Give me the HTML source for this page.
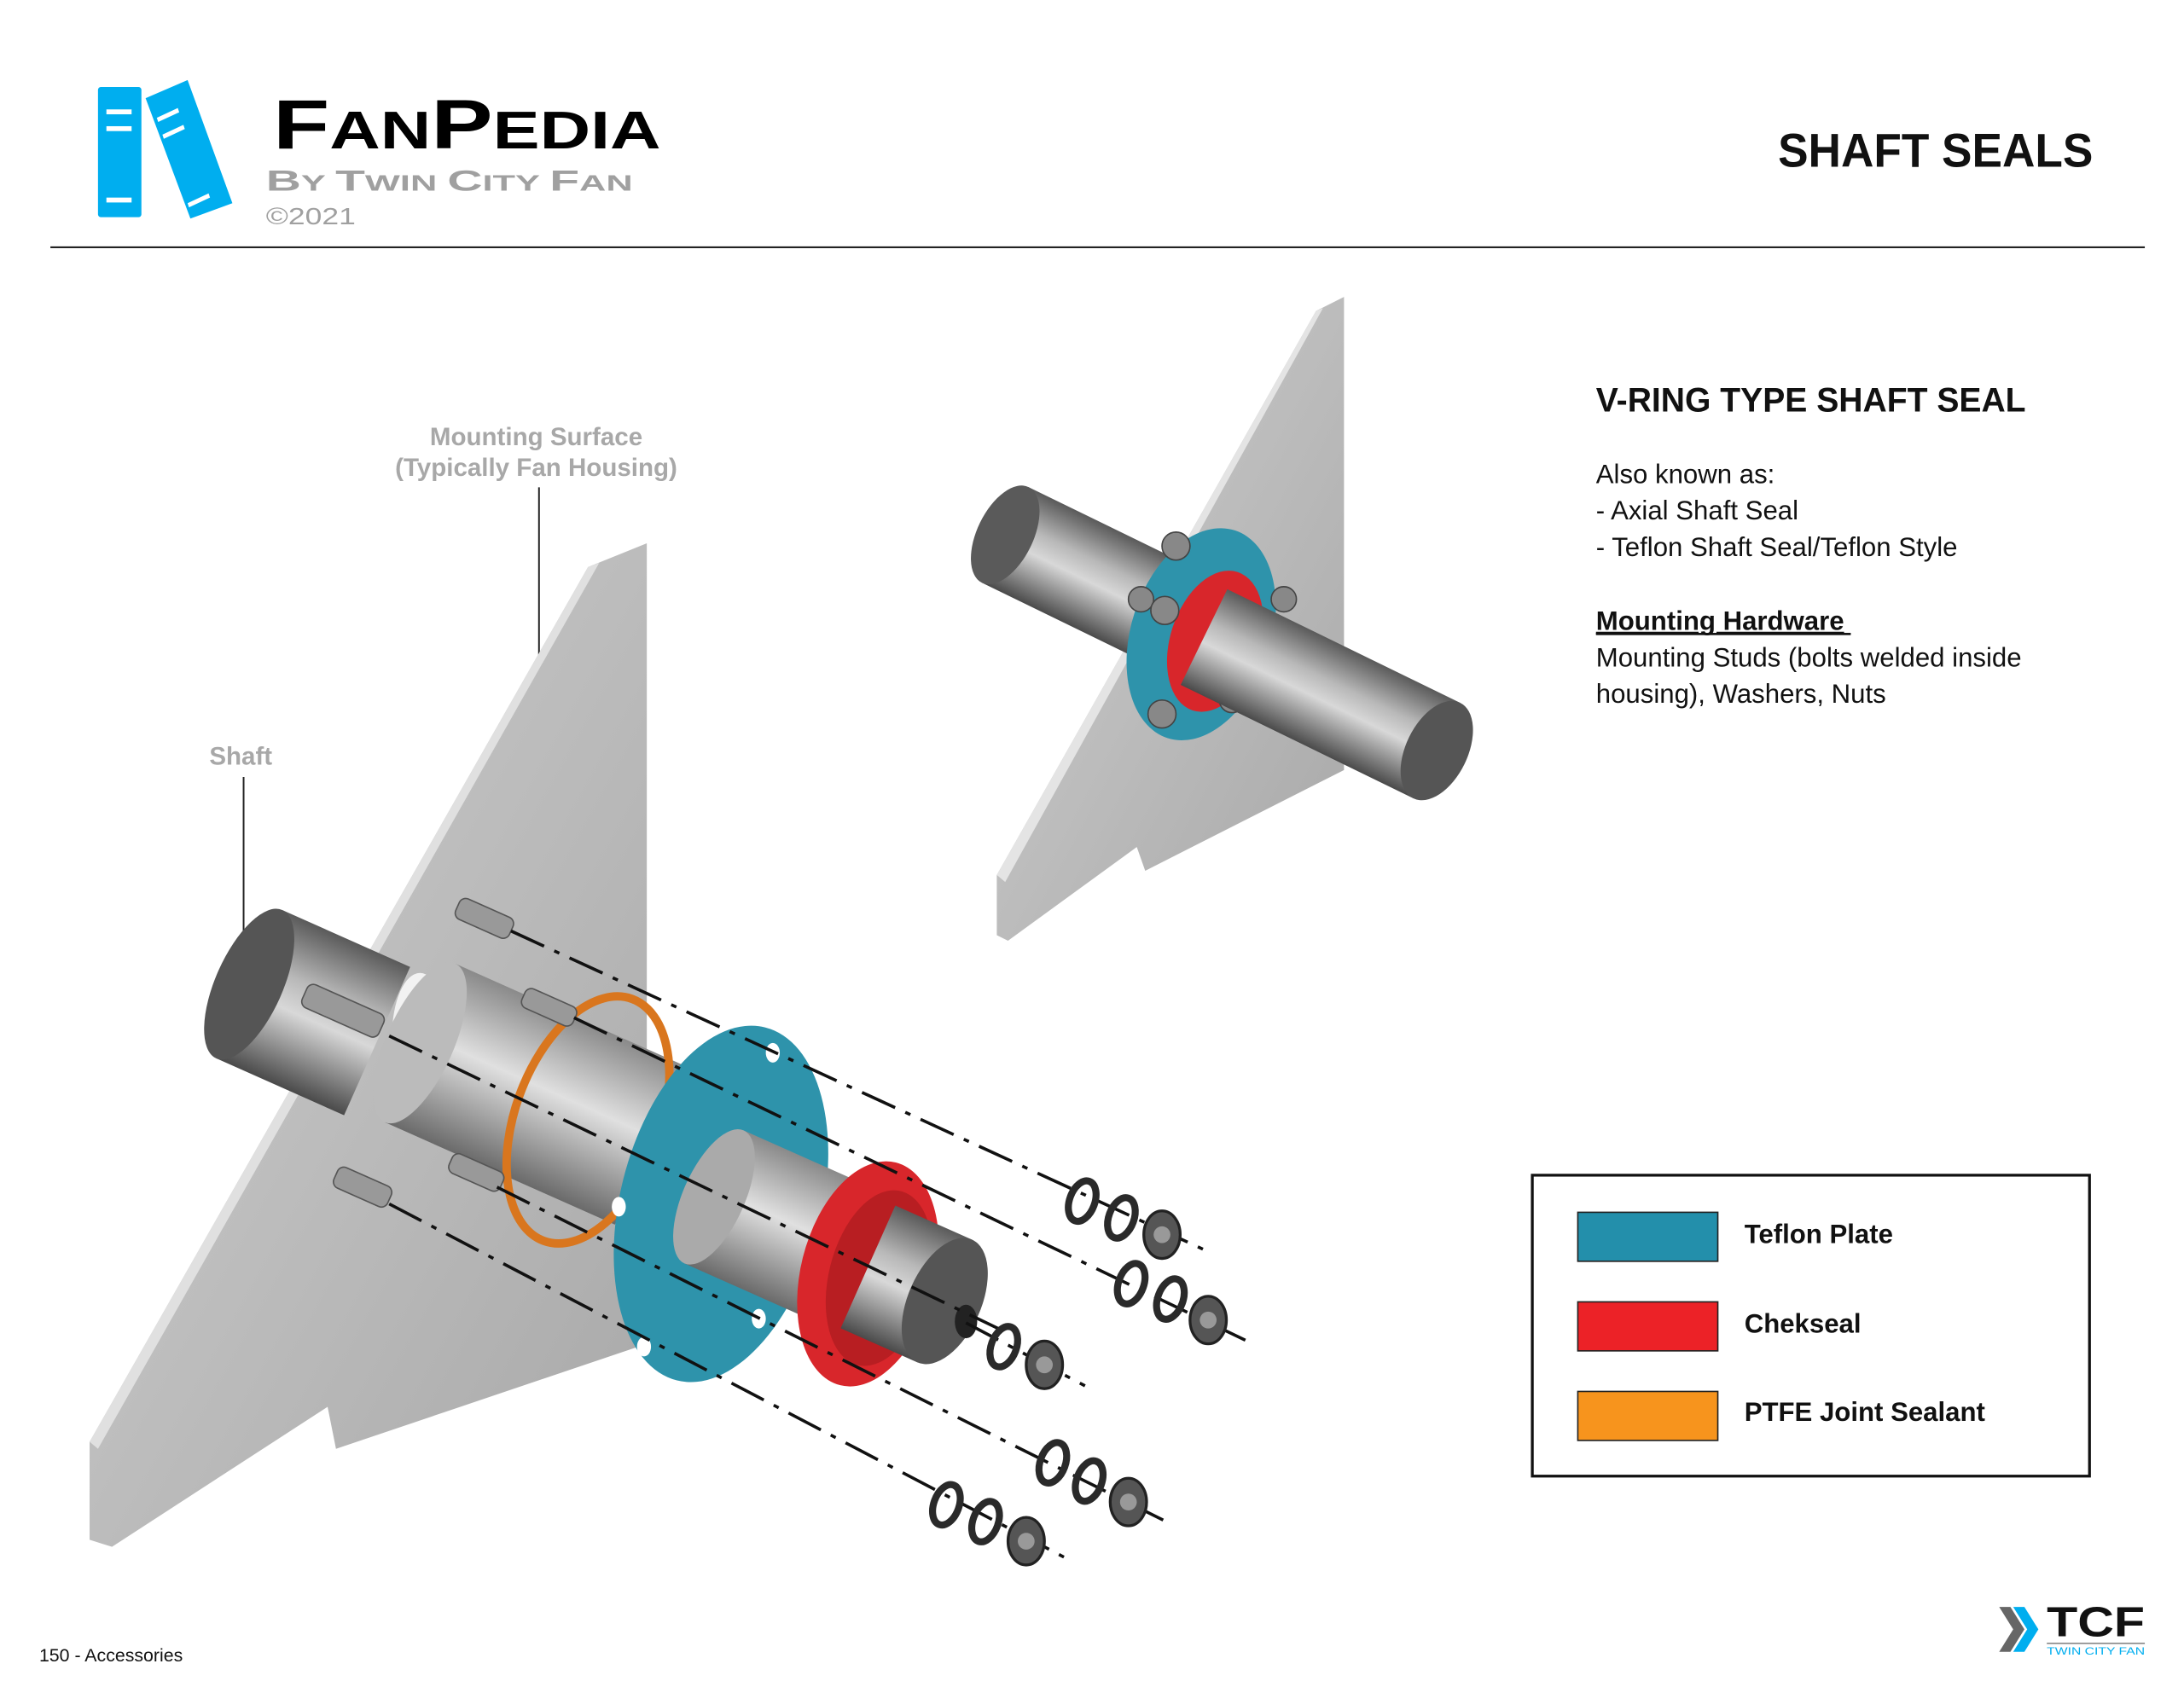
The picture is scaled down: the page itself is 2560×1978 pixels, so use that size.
<!DOCTYPE html>
<html><head><meta charset="utf-8"><style>
html,body{margin:0;padding:0;background:#fff;}
svg{display:block;}
text{font-family:"Liberation Sans",sans-serif;}
</style></head><body>
<svg width="2560" height="1978" viewBox="0 0 1560 1205" xmlns="http://www.w3.org/2000/svg">
<defs>
<linearGradient id="cyl" x1="0" y1="0" x2="0" y2="1">
<stop offset="0" stop-color="#5a5a5a"/><stop offset="0.35" stop-color="#b8b8b8"/><stop offset="0.55" stop-color="#d8d8d8"/><stop offset="1" stop-color="#4a4a4a"/>
</linearGradient>
<linearGradient id="cyl2" x1="0" y1="0" x2="0" y2="1">
<stop offset="0" stop-color="#8a8a8a"/><stop offset="0.45" stop-color="#e0e0e0"/><stop offset="1" stop-color="#6a6a6a"/>
</linearGradient>
<linearGradient id="plate" x1="0" y1="0" x2="1" y2="1">
<stop offset="0" stop-color="#d0d0d0"/><stop offset="1" stop-color="#a8a8a8"/>
</linearGradient>
</defs>

<!-- header logo -->
<rect x="70" y="62" width="31" height="93" rx="2" fill="#00aeef"/>
<rect x="76" y="78" width="18" height="3.5" fill="#fff"/><rect x="76" y="90" width="18" height="3.5" fill="#fff"/><rect x="76" y="141" width="18" height="3.5" fill="#fff"/>
<polygon points="104,70 134,57 166,145 136,156" fill="#00aeef"/>
<polygon points="112,84 127,77 128,80 113,87" fill="#fff"/><polygon points="116,96 131,89 132,92 117,99" fill="#fff"/><polygon points="134,145 149,138 150,141 135,148" fill="#fff"/>
<text x="195" y="106" textLength="277" lengthAdjust="spacingAndGlyphs" font-weight="bold" fill="#000"><tspan font-size="50">F</tspan><tspan font-size="38">AN</tspan><tspan font-size="50">P</tspan><tspan font-size="38">EDIA</tspan></text>
<text x="190" y="136" textLength="262" lengthAdjust="spacingAndGlyphs" fill="#a0a0a0" font-weight="bold"><tspan font-size="21">B</tspan><tspan font-size="16">Y </tspan><tspan font-size="21">T</tspan><tspan font-size="16">WIN </tspan><tspan font-size="21">C</tspan><tspan font-size="16">ITY </tspan><tspan font-size="21">F</tspan><tspan font-size="16">AN</tspan></text>
<text x="190" y="160" font-size="17" fill="#a0a0a0" textLength="64" lengthAdjust="spacingAndGlyphs">©2021</text>

<text x="1270" y="119" font-size="34" font-weight="bold" textLength="225" lengthAdjust="spacingAndGlyphs" fill="#111">SHAFT SEALS</text>
<line x1="36" y1="176.5" x2="1532" y2="176.5" stroke="#222" stroke-width="1.3"/>

<!-- right text -->
<text x="1140" y="294" font-size="24" font-weight="bold" textLength="307" lengthAdjust="spacingAndGlyphs" fill="#111">V-RING TYPE SHAFT SEAL</text>
<g font-size="19" fill="#111">
<text x="1140" y="345">Also known as:</text>
<text x="1140" y="371">- Axial Shaft Seal</text>
<text x="1140" y="397">- Teflon Shaft Seal/Teflon Style</text>
<text x="1140" y="450" font-weight="bold" text-decoration="underline">Mounting Hardware</text>
<rect x="1140" y="452" width="182" height="1.6" fill="#111"/>
<text x="1140" y="476">Mounting Studs (bolts welded inside</text>
<text x="1140" y="502">housing), Washers, Nuts</text>
</g>

<!-- legend -->
<rect x="1094.5" y="839.5" width="398" height="215" fill="#fff" stroke="#111" stroke-width="2"/>
<rect x="1127" y="866" width="100" height="35" fill="#238fab" stroke="#222"/>
<rect x="1127" y="930" width="100" height="35" fill="#ec2227" stroke="#222"/>
<rect x="1127" y="994" width="100" height="35" fill="#f7941d" stroke="#222"/>
<g font-size="19" font-weight="bold" fill="#111">
<text x="1246" y="888">Teflon Plate</text>
<text x="1246" y="952">Chekseal</text>
<text x="1246" y="1015">PTFE Joint Sealant</text>
</g>

<!-- footer -->
<text x="28" y="1187" font-size="13" fill="#111">150 - Accessories</text>
<polygon points="1428,1148 1436,1148 1446,1164 1436,1180 1428,1180 1438,1164" fill="#666"/>
<polygon points="1438,1148 1446,1148 1456,1164 1446,1180 1438,1180 1448,1164" fill="#00aeef"/>
<text x="1462" y="1169" font-size="30" font-weight="bold" textLength="70" lengthAdjust="spacingAndGlyphs" fill="#111">TCF</text>
<line x1="1462" y1="1174" x2="1532" y2="1174" stroke="#888" stroke-width="1"/>
<text x="1462" y="1182" font-size="7.5" textLength="70" lengthAdjust="spacingAndGlyphs" fill="#00aeef">TWIN CITY FAN</text>

<!-- labels -->
<g font-size="18" fill="#a8a8a8" text-anchor="middle" font-weight="bold">
<text x="383" y="318">Mounting Surface</text>
<text x="383" y="340">(Typically Fan Housing)</text>
<text x="172" y="546">Shaft</text>
</g>
<line x1="385" y1="348" x2="385" y2="522" stroke="#222" stroke-width="1.2"/>
<line x1="174" y1="555" x2="174" y2="668" stroke="#222" stroke-width="1.2"/>

<!-- right assembly -->
<polygon points="712,625 940,222 960,212 960,550 818,622 812,605 720,672 712,668" fill="url(#plate)"/>
<polygon points="712,625 940,222 945,220 718,630" fill="#e4e4e4"/>
<g transform="translate(718,382) rotate(26)">
<rect x="0" y="-38" width="140" height="76" fill="url(#cyl)"/>
<ellipse cx="0" cy="0" rx="20" ry="38" fill="#5a5a5a"/>
</g>
<ellipse cx="858" cy="453" rx="50" ry="78" transform="rotate(18 858 453)" fill="#2e93ab"/>
<ellipse cx="868" cy="458" rx="32" ry="52" transform="rotate(18 868 458)" fill="#d8262b"/>
<g fill="#888" stroke="#444" stroke-width="1">
<circle cx="840" cy="390" r="10"/><circle cx="917" cy="428" r="9"/><circle cx="815" cy="428" r="9"/><circle cx="832" cy="436" r="10"/><circle cx="830" cy="510" r="10"/><circle cx="880" cy="500" r="9"/>
</g>
<g transform="translate(860,455) rotate(26)">
<rect x="0" y="-38" width="185" height="76" fill="url(#cyl)"/>
<ellipse cx="185" cy="0" rx="22" ry="38" fill="#555"/>
</g>

<!-- left assembly -->
<polygon points="64,1030 420,405 462,388 462,960 240,1035 234,1005 80,1105 64,1100" fill="url(#plate)"/>
<polygon points="64,1030 420,405 428,402 70,1035" fill="#e0e0e0"/>
<g transform="translate(178,703) rotate(24)">
<rect x="0" y="-58" width="100" height="116" fill="url(#cyl)"/>
<ellipse cx="0" cy="0" rx="24" ry="58" fill="#555"/>
</g>
<ellipse cx="300" cy="740" rx="20" ry="45" fill="#fff" opacity="0.8"/>
<g transform="translate(300,745) rotate(24)">
<rect x="0" y="-62" width="180" height="124" fill="url(#cyl2)"/>
<ellipse cx="0" cy="0" rx="24" ry="62" fill="#bbb"/>
</g>
<ellipse cx="420" cy="800" rx="52" ry="92" transform="rotate(20 420 800)" fill="none" stroke="#d9761e" stroke-width="6"/>
<ellipse cx="515" cy="860" rx="72" ry="130" transform="rotate(14 515 860)" fill="#2e93ab"/>
<g fill="#fff"><ellipse cx="552" cy="752" rx="5" ry="7"/><ellipse cx="600" cy="812" rx="5" ry="7"/><ellipse cx="460" cy="962" rx="5" ry="7"/><ellipse cx="542" cy="942" rx="5" ry="7"/><ellipse cx="442" cy="862" rx="5" ry="7"/></g>
<g transform="translate(510,855) rotate(24)">
<rect x="0" y="-52" width="120" height="104" fill="url(#cyl2)"/>
<ellipse cx="0" cy="0" rx="22" ry="52" fill="#aaa"/>
</g>
<ellipse cx="620" cy="910" rx="48" ry="82" transform="rotate(14 620 910)" fill="#d8262b"/>
<ellipse cx="628" cy="913" rx="36" ry="64" transform="rotate(14 628 913)" fill="#b81e22"/>
<g transform="translate(620,905) rotate(24)">
<rect x="0" y="-48" width="60" height="96" fill="url(#cyl)"/>
<ellipse cx="60" cy="0" rx="26" ry="48" fill="#555"/>
</g>
<ellipse cx="690" cy="944" rx="8" ry="12" fill="#222"/>

<!-- studs -->
<g fill="#999" stroke="#555" stroke-width="1">
<rect x="325" y="648" width="42" height="16" rx="5" transform="rotate(24 346 656)"/>
<rect x="215" y="713" width="60" height="18" rx="5" transform="rotate(24 245 722)"/>
<rect x="372" y="712" width="40" height="15" rx="5" transform="rotate(24 392 720)"/>
<rect x="238" y="840" width="42" height="16" rx="5" transform="rotate(24 259 848)"/>
<rect x="320" y="830" width="40" height="15" rx="5" transform="rotate(24 340 838)"/>
</g>

<!-- dashed lines -->
<g stroke="#111" stroke-width="2.2" fill="none" stroke-dasharray="26,8,4,8">
<line x1="365" y1="665" x2="865" y2="895"/>
<line x1="278" y1="740" x2="715" y2="950"/>
<line x1="410" y1="727" x2="895" y2="960"/>
<line x1="278" y1="860" x2="765" y2="1115"/>
<line x1="355" y1="848" x2="835" y2="1088"/>
<line x1="690" y1="945" x2="775" y2="990"/>
</g>

<!-- washers & nuts -->
<g stroke="#2a2a2a" stroke-width="5" fill="none">
<ellipse cx="773" cy="858" rx="9" ry="15" transform="rotate(20 773 858)"/>
<ellipse cx="801" cy="870" rx="9" ry="15" transform="rotate(20 801 870)"/>
<ellipse cx="808" cy="917" rx="9" ry="15" transform="rotate(20 808 917)"/>
<ellipse cx="836" cy="928" rx="9" ry="15" transform="rotate(20 836 928)"/>
<ellipse cx="717" cy="962" rx="9" ry="15" transform="rotate(20 717 962)"/>
<ellipse cx="752" cy="1045" rx="9" ry="15" transform="rotate(20 752 1045)"/>
<ellipse cx="778" cy="1058" rx="9" ry="15" transform="rotate(20 778 1058)"/>
<ellipse cx="676" cy="1075" rx="9" ry="15" transform="rotate(20 676 1075)"/>
<ellipse cx="704" cy="1087" rx="9" ry="15" transform="rotate(20 704 1087)"/>
</g>
<g fill="#555" stroke="#222" stroke-width="2">
<ellipse cx="830" cy="882" rx="13" ry="17"/><ellipse cx="863" cy="943" rx="13" ry="17"/><ellipse cx="746" cy="975" rx="13" ry="17"/><ellipse cx="806" cy="1073" rx="13" ry="17"/><ellipse cx="733" cy="1101" rx="13" ry="17"/>
</g>
<g fill="#999"><circle cx="830" cy="882" r="6"/><circle cx="863" cy="943" r="6"/><circle cx="746" cy="975" r="6"/><circle cx="806" cy="1073" r="6"/><circle cx="733" cy="1101" r="6"/></g>
</svg>
</body></html>
